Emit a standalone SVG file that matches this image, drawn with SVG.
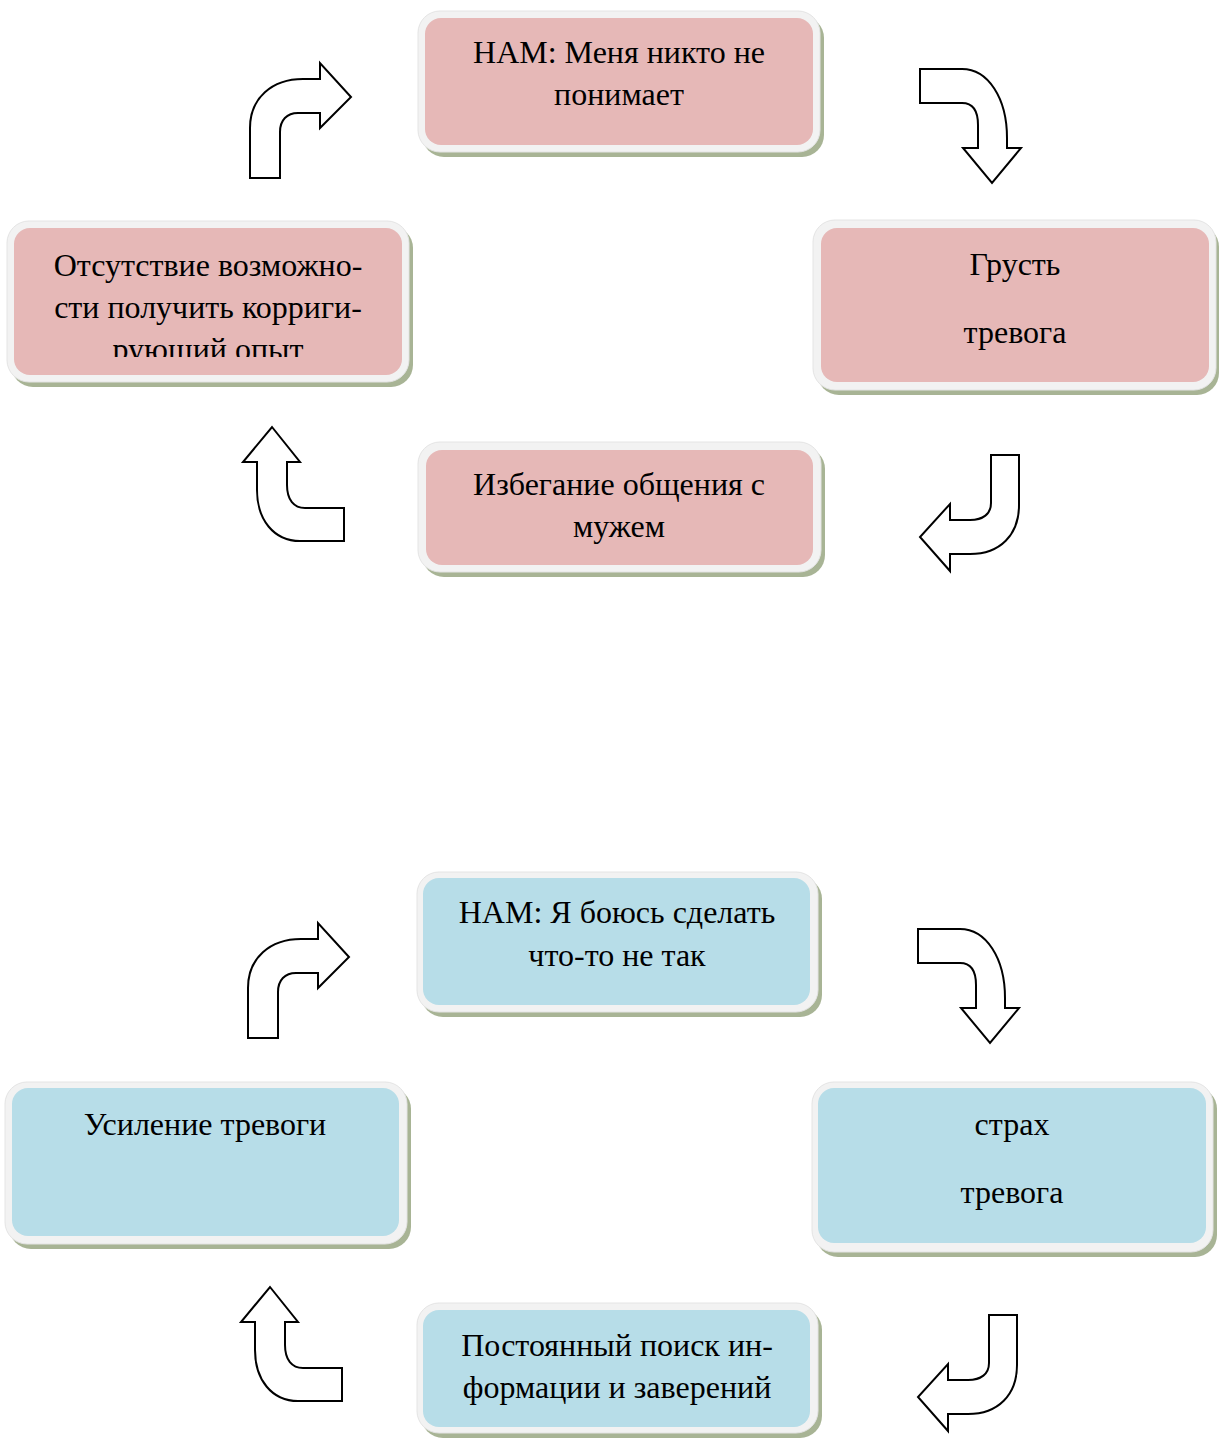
<svg xmlns="http://www.w3.org/2000/svg" width="1219" height="1438" viewBox="0 0 1219 1438">
<style>
.sh{fill:#a8b495}
.rim{fill:#f2f2f2;stroke:#e4e4e4;stroke-width:1}
.pk{fill:#e6b8b7}
.bl{fill:#b7dde8}
.t{font-family:"Liberation Serif","Times New Roman",serif;font-size:32px;fill:#000;text-anchor:middle}
.ar{fill:#fff;stroke:#000;stroke-width:2;stroke-linejoin:miter}
</style>
<defs>
<clipPath id="clipL"><rect x="14" y="228" width="388" height="129"/></clipPath>
<g id="arrowset">
<path class="ar" d="M250,178 L250,128 C250,98 272,79 303,79 L320,79 L320,63 L351,97 L320,128 L320,113 L298,113 C287,113 280,120 280,132 L280,178 Z"/>
<path class="ar" d="M920,69 L962,69 C988,69 1007,98 1007,138 L1007,148 L1021,148 L992,183 L963,148 L978,148 L978,125 C978,110 973,103 962,103 L920,103 Z"/>
<path class="ar" d="M991,455 L1019,455 L1019,505 C1019,535 1000,554 970,554 L950,554 L950,571 L920,537 L950,504 L950,520 L970,520 C983,520 991,514 991,503 Z"/>
<path class="ar" d="M272,427 L300,462 L287,462 L287,485 C287,500 294,508 305,508 L344,508 L344,541 L300,541 C274,541 257,520 257,490 L257,462 L243,462 Z"/>
</g>
</defs>

<g id="connectors">
<use href="#arrowset"/>
<use href="#arrowset" transform="translate(-2,860)"/>
</g>

<!-- Pink cycle -->
<g id="p-top">
<rect class="sh" x="422" y="16" width="402" height="141" rx="22"/>
<rect class="rim" x="418" y="11" width="402" height="141" rx="22"/>
<rect class="pk" x="425" y="18" width="388" height="127" rx="16"/>
<text class="t" x="619" y="63">НАМ: Меня никто не</text>
<text class="t" x="619" y="105">понимает</text>
</g>
<g id="p-right">
<rect class="sh" x="817" y="225" width="402" height="170" rx="22"/>
<rect class="rim" x="813" y="220" width="403" height="170" rx="22"/>
<rect class="pk" x="821" y="228" width="388" height="154" rx="16"/>
<text class="t" x="1015" y="275">Грусть</text>
<text class="t" x="1015" y="343">тревога</text>
</g>
<g id="p-mid">
<rect class="sh" x="422" y="447" width="403" height="130" rx="22"/>
<rect class="rim" x="418" y="442" width="403" height="130" rx="22"/>
<rect class="pk" x="426" y="450" width="387" height="115" rx="16"/>
<text class="t" x="619" y="495">Избегание общения с</text>
<text class="t" x="619" y="537">мужем</text>
</g>
<g id="p-left">
<rect class="sh" x="11" y="226" width="402" height="161" rx="22"/>
<rect class="rim" x="7" y="221" width="402" height="161" rx="22"/>
<rect class="pk" x="14" y="228" width="388" height="147" rx="16"/>
<g clip-path="url(#clipL)">
<text class="t" x="208" y="276">Отсутствие возможно-</text>
<text class="t" x="208" y="318">сти получить корриги-</text>
<text class="t" x="208" y="360">рующий опыт</text>
</g>
</g>

<!-- Blue cycle -->
<g id="b-top">
<rect class="sh" x="421" y="877" width="401" height="140" rx="22"/>
<rect class="rim" x="417" y="872" width="401" height="140" rx="22"/>
<rect class="bl" x="423" y="878" width="387" height="127" rx="16"/>
<text class="t" x="617" y="923">НАМ: Я боюсь сделать</text>
<text class="t" x="617" y="966">что-то не так</text>
</g>
<g id="b-right">
<rect class="sh" x="816" y="1087" width="401" height="170" rx="22"/>
<rect class="rim" x="812" y="1082" width="401" height="170" rx="22"/>
<rect class="bl" x="818" y="1088" width="388" height="155" rx="16"/>
<text class="t" x="1012" y="1135">страх</text>
<text class="t" x="1012" y="1203">тревога</text>
</g>
<g id="b-bottom">
<rect class="sh" x="421" y="1308" width="401" height="130" rx="22"/>
<rect class="rim" x="417" y="1303" width="401" height="130" rx="22"/>
<rect class="bl" x="423" y="1310" width="387" height="117" rx="16"/>
<text class="t" x="617" y="1356">Постоянный поиск ин-</text>
<text class="t" x="617" y="1398">формации и заверений</text>
</g>
<g id="b-left">
<rect class="sh" x="9" y="1087" width="402" height="162" rx="22"/>
<rect class="rim" x="5" y="1082" width="402" height="162" rx="22"/>
<rect class="bl" x="12" y="1088" width="387" height="148" rx="16"/>
<text class="t" x="205" y="1135">Усиление тревоги</text>
</g>
</svg>
